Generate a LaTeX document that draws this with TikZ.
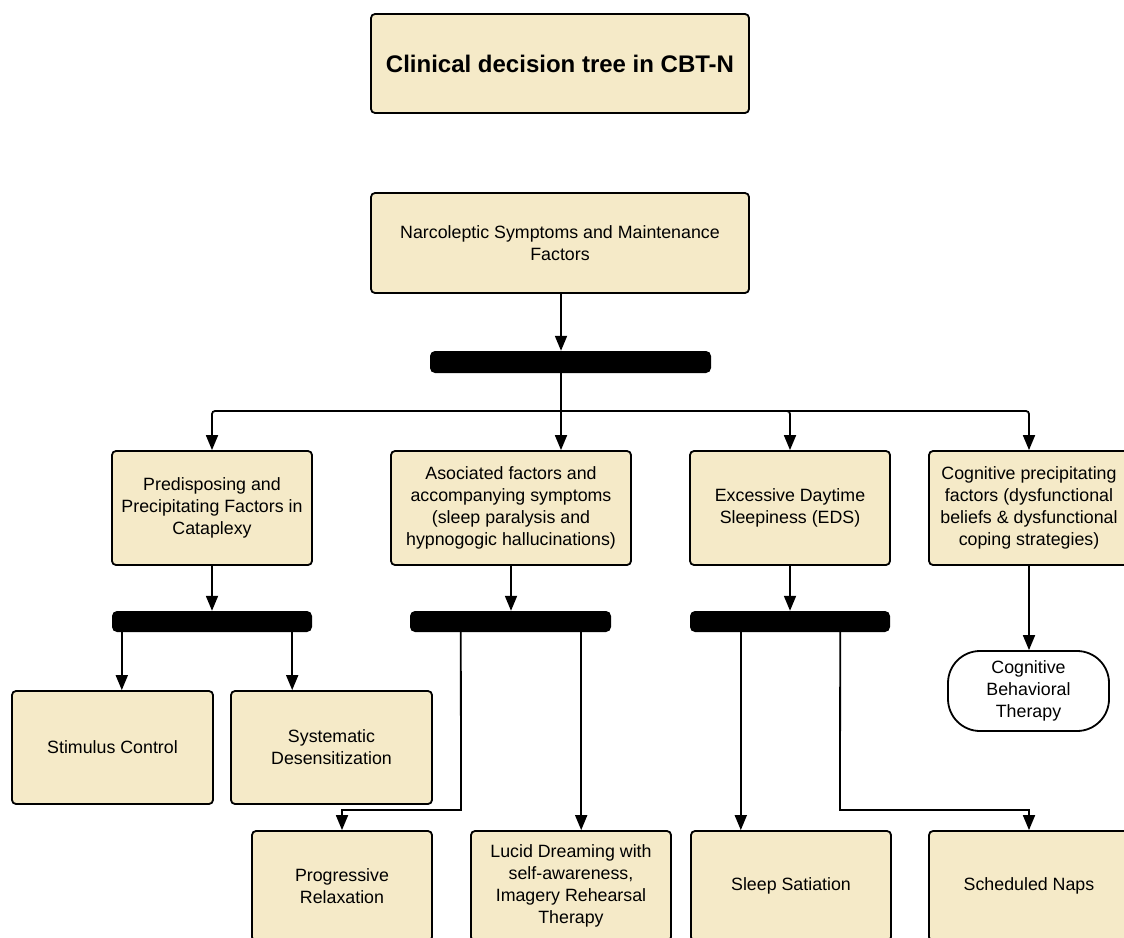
\documentclass[tikz,border=0pt]{standalone}
\usepackage{fontspec}
\setmainfont{Liberation Sans}
\usetikzlibrary{arrows.meta}
\definecolor{beige}{RGB}{245,234,200}
\begin{document}
\begin{tikzpicture}[x=1pt,y=-1pt,
 box/.style={draw, fill=beige, rounded corners=4pt, line width=1.8pt, align=center, inner sep=0pt, font=\fontsize{17.8}{22}\selectfont},
 term/.style={draw, fill=white, rounded corners=32pt, line width=1.8pt, align=center, inner sep=0pt, font=\fontsize{17.8}{22}\selectfont},
 bar/.style={fill=black, rounded corners=5pt, inner sep=0pt},
 arr/.style={line width=1.8pt, -{Triangle[length=15pt,width=12pt]}},
 ln/.style={line width=1.8pt}]
\useasboundingbox (0,0) rectangle (1124,937);
\fill[white] (0,0) rectangle (1124,937);
\clip (0,0) rectangle (1124,937);

\node[box, minimum width=378pt, minimum height=99pt, font=\bfseries\fontsize{24}{28}\selectfont] (title) at (560,63.5) {Clinical decision tree in CBT-N};
\node[box, minimum width=378pt, minimum height=100pt] (N) at (560,243) {Narcoleptic Symptoms and Maintenance\\Factors};
\node[bar, minimum width=281pt, minimum height=22pt] (bar1) at (570.5,362) {};

\node[box, minimum width=200pt, minimum height=114pt] (A) at (212,508) {Predisposing and\\Precipitating Factors in\\Cataplexy};
\node[box, minimum width=240pt, minimum height=114pt] (B) at (511,508) {Asociated factors and\\accompanying symptoms\\(sleep paralysis and\\hypnogogic hallucinations)};
\node[box, minimum width=200pt, minimum height=114pt] (C) at (790,508) {Excessive Daytime\\Sleepiness (EDS)};
\node[box, minimum width=200pt, minimum height=114pt] (D) at (1029,508) {Cognitive precipitating\\factors (dysfunctional\\beliefs \& dysfunctional\\coping strategies)};

\node[bar, minimum width=200pt, minimum height=21pt] (barA) at (212,621.5) {};
\node[bar, minimum width=201pt, minimum height=21pt] (barB) at (510.5,621.5) {};
\node[bar, minimum width=200pt, minimum height=21pt] (barC) at (790,621.5) {};

\node[term, minimum width=161pt, minimum height=80pt] (CBT) at (1028.5,691) {Cognitive\\Behavioral\\Therapy};

\node[box, minimum width=201pt, minimum height=113pt] (S) at (112.5,747.5) {Stimulus Control};
\node[box, minimum width=201pt, minimum height=113pt] (SD) at (331.5,747.5) {Systematic\\Desensitization};

\node[box, minimum width=180pt, minimum height=110pt] (P) at (342,886) {Progressive\\Relaxation};
\node[box, minimum width=200pt, minimum height=110pt] (L) at (571,886) {Lucid Dreaming with\\self-awareness,\\Imagery Rehearsal\\Therapy};
\node[box, minimum width=200pt, minimum height=110pt] (SS) at (791,886) {Sleep Satiation};
\node[box, minimum width=200pt, minimum height=110pt] (SN) at (1029,886) {Scheduled Naps};

% connectors
\coordinate (j) at (561,411);
\draw[arr] (N.south -| j) -- (bar1.north -| j);
\draw[ln] (bar1.south -| j) -- (j);
\draw[arr, rounded corners=3pt] (j) -| (A.north);
\draw[arr] (j) -- (B.north -| j);
\draw[arr, rounded corners=3pt] (j) -| (C.north);
\draw[arr, rounded corners=3pt] (j) -| (D.north);

\draw[arr] (A.south) -- (barA.north);
\draw[arr] (B.south) -- (B.south |- barB.north);
\draw[arr] (C.south) -- (barC.north);
\draw[arr] (D.south) -- (D.south |- CBT.north);

\coordinate (a1) at ([xshift=10pt]barA.south west);
\coordinate (a2) at ([xshift=-20pt]barA.south east);
\draw[arr] (a1) -- (a1 |- S.north);
\draw[arr] (a2) -- (a2 |- SD.north);

\coordinate (b1) at ([xshift=51pt]barB.south west);
\coordinate (b2) at ([xshift=-30pt]barB.south east);
\coordinate (kb) at (461,810);
\draw[arr] (b1) -- (kb) -| (P.north);
\draw[arr] (b2) -- (b2 |- L.north);

\coordinate (c1) at ([xshift=51pt]barC.south west);
\coordinate (c2) at ([xshift=-50pt]barC.south east);
\coordinate (kc) at (840,810);
\draw[arr] (c1) -- (c1 |- SS.north);
\draw[arr] (c2) -- (kc) -| (SN.north);
\end{tikzpicture}
\end{document}
